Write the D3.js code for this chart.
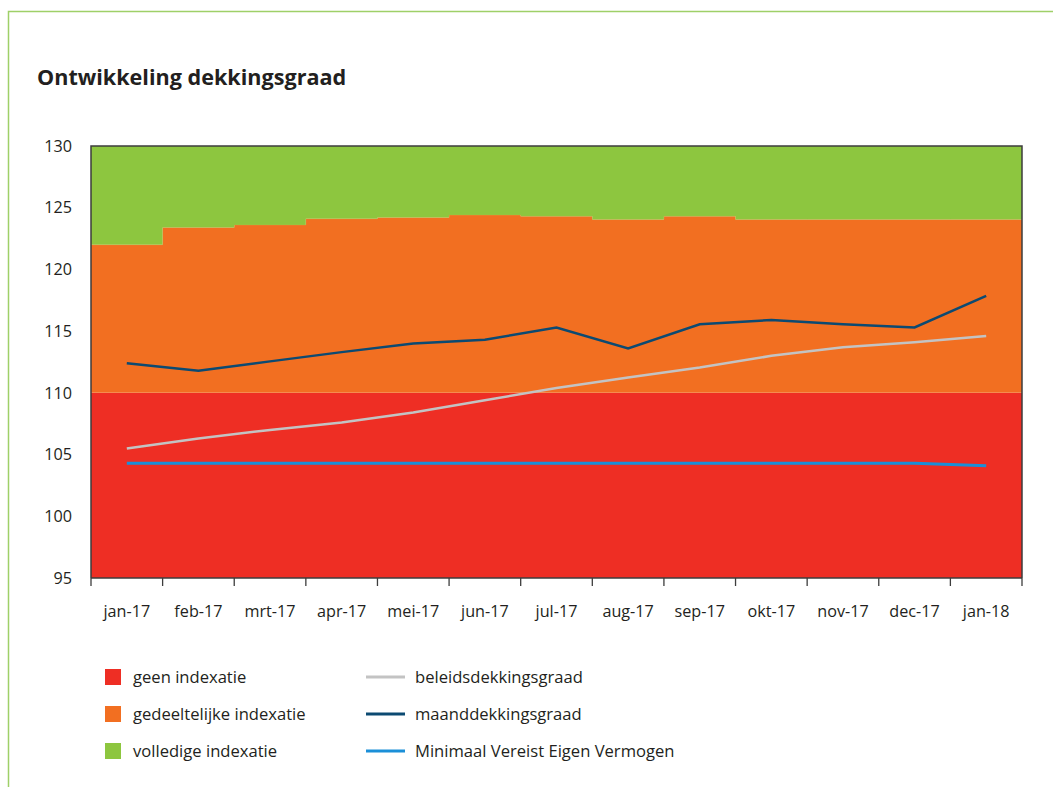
<!DOCTYPE html>
<html><head><meta charset="utf-8">
<script src="https://cdn.jsdelivr.net/npm/d3@7"></script>
<style>
body{margin:0;background:#fff;}
text{font-family:"Open Sans","Noto Sans",sans-serif;fill:#231f20;}
</style></head>
<body><svg id="c" width="1053" height="787"></svg>
<script>
const months = ["jan-17","feb-17","mrt-17","apr-17","mei-17","jun-17","jul-17","aug-17","sep-17","okt-17","nov-17","dec-17","jan-18"];
const geenTop = 110;
const volledigeFrom = [122.0,123.4,123.6,124.1,124.2,124.4,124.3,124.05,124.3,124.05,124.05,124.05,124.05];
const beleids = [105.5,106.3,107.0,107.6,108.4,109.4,110.4,111.25,112.05,113.0,113.7,114.1,114.6];
const maand = [112.4,111.8,112.55,113.3,114.0,114.3,115.3,113.6,115.55,115.9,115.55,115.3,117.85];
const mvev = [104.3,104.3,104.3,104.3,104.3,104.3,104.3,104.3,104.3,104.3,104.3,104.3,104.1];
const yTicks = [95,100,105,110,115,120,125,130];

const svg = d3.select("#c");
const L=91,R=1022,T=146,B=578;
const x = d3.scaleBand().domain(months).range([L,R]).padding(0);
const y = d3.scaleLinear().domain([95,130]).range([B,T]);
const cx = m => x(m)+x.bandwidth()/2;

// outer frame
svg.append("path").attr("d",`M8.5,787 V11.5 H1053`).attr("fill","none").attr("stroke","#9fd068").attr("stroke-width",1.5);

svg.append("text").attr("x",37).attr("y",85).attr("font-size",21.6).attr("font-weight",700)
  .text("Ontwikkeling dekkingsgraad");

const stepPts = months.map((m,i)=>({x:x(m), v:volledigeFrom[i]}));
stepPts.push({x:R, v:volledigeFrom[volledigeFrom.length-1]});

const g = svg.append("g");
g.append("rect").attr("x",L).attr("width",R-L).attr("y",y(geenTop)).attr("height",y(95)-y(geenTop)).attr("fill","#ee2e24");
g.append("path").datum(stepPts).attr("fill","#f26f21")
  .attr("d",d3.area().curve(d3.curveStepAfter).x(d=>d.x).y0(y(geenTop)).y1(d=>y(d.v)));
g.append("path").datum(stepPts).attr("fill","#8dc63f")
  .attr("d",d3.area().curve(d3.curveStepAfter).x(d=>d.x).y0(d=>y(d.v)).y1(y(130)));
g.append("path").datum(stepPts).attr("fill","none").attr("stroke","#c6b24a").attr("stroke-width",0.6).attr("stroke-opacity",0.6)
  .attr("d",d3.line().curve(d3.curveStepAfter).x(d=>d.x).y(d=>y(d.v)));

svg.append("path").attr("d",`M${L},${B} V${T} H${R} V${B}`).attr("fill","none").attr("stroke","#3d3d3d").attr("stroke-width",1.5);

const line = d3.line().x((d,i)=>cx(months[i])).y(d=>y(d));
svg.append("path").datum(mvev).attr("d",line).attr("fill","none").attr("stroke","#1b8fd8").attr("stroke-width",3);
svg.append("path").datum(beleids).attr("d",line).attr("fill","none").attr("stroke","#c3c3c3").attr("stroke-width",2.5);
svg.append("path").datum(maand).attr("d",line).attr("fill","none").attr("stroke","#0c4a72").attr("stroke-width",2.5);

const xa = svg.append("g").attr("transform",`translate(0,${B})`)
  .call(d3.axisBottom(x).tickSize(0).tickPadding(27));
xa.select(".domain").remove();
xa.selectAll("text").attr("font-size",16.2).attr("fill","#231f20");
const edges = months.map(m=>x(m)).concat([R]);
svg.append("line").attr("x1",L).attr("x2",R).attr("y1",B).attr("y2",B).attr("stroke","#3d3d3d").attr("stroke-width",1.5);
svg.selectAll(".tk").data(edges).join("line").attr("x1",d=>d).attr("x2",d=>d).attr("y1",B).attr("y2",B+8)
  .attr("stroke","#3d3d3d").attr("stroke-width",1.3);

const ya = svg.append("g").attr("transform",`translate(${L},0)`)
  .call(d3.axisLeft(y).tickValues(yTicks).tickSize(0).tickPadding(19));
ya.select(".domain").remove();
ya.selectAll("text").attr("font-size",16.2).attr("fill","#231f20");

const leg1 = [["geen indexatie","#ee2e24"],["gedeeltelijke indexatie","#f26f21"],["volledige indexatie","#8dc63f"]];
const leg2 = [["beleidsdekkingsgraad","#c3c3c3"],["maanddekkingsgraad","#0c4a72"],["Minimaal Vereist Eigen Vermogen","#1b8fd8"]];
const rowY = [677,714,751];
leg1.forEach((d,i)=>{
  svg.append("rect").attr("x",105).attr("y",rowY[i]-8).attr("width",16).attr("height",16).attr("fill",d[1]);
  svg.append("text").attr("x",133).attr("y",rowY[i]).attr("dy","0.35em").attr("font-size",16.6).text(d[0]);
});
leg2.forEach((d,i)=>{
  svg.append("line").attr("x1",366).attr("x2",405).attr("y1",rowY[i]).attr("y2",rowY[i]).attr("stroke",d[1]).attr("stroke-width",3);
  svg.append("text").attr("x",415).attr("y",rowY[i]).attr("dy","0.35em").attr("font-size",16.6).text(d[0]);
});
</script></body></html>
